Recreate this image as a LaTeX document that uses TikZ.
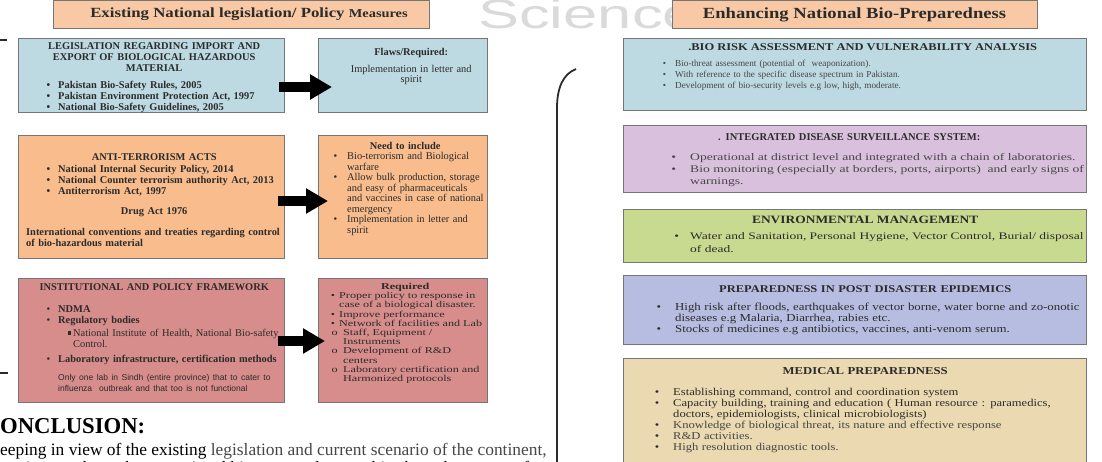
\documentclass[tikz,border=0pt]{standalone}
\usepackage{fontspec}
\setmainfont{Liberation Serif}
\setsansfont{Liberation Sans}
\newfontfamily\serifwide{Liberation Serif}[FakeStretch=1.2]
\newfontfamily\serifwider{Liberation Serif}[FakeStretch=1.35]
\newfontfamily\markfont{Liberation Sans}[FakeStretch=1.5]
\usepackage{enumitem}
\setlist[itemize]{nosep, label=\textbullet}
\usetikzlibrary{positioning,arrows.meta}

\definecolor{titlefill}{HTML}{F8C9A4}
\definecolor{bluefill}{HTML}{BDDAE2}
\definecolor{orangefill}{HTML}{F8BC8D}
\definecolor{redfill}{HTML}{D78D8B}
\definecolor{purplefill}{HTML}{D9C1DD}
\definecolor{greenfill}{HTML}{C8DA8F}
\definecolor{lavenderfill}{HTML}{B7BDE1}
\definecolor{tanfill}{HTML}{EAD9B1}
\definecolor{boxline}{HTML}{767676}
\definecolor{bodytext}{HTML}{2B2B2B}
\definecolor{softtext}{HTML}{464646}
\definecolor{markgray}{HTML}{DADADA}

\tikzset{
  panel/.style={draw=boxline, line width=0.9pt, anchor=north west, inner sep=0pt, outer sep=0pt},
  paneltext/.style={inner sep=0pt, anchor=north west, align=left, text=bodytext},
  blockarrow/.style={line width=10pt, -{Triangle[length=22pt,width=24pt]}, black},
}

\begin{document}
\begin{tikzpicture}[x=1pt,y=-1pt]
\useasboundingbox (0,0) rectangle (1102,461);
\clip (0,0) rectangle (1102,461);

% watermark
\node[anchor=base west, inner sep=0pt, text=markgray, font=\markfont\fontsize{41}{41}\selectfont] (mark) at (478,28) {Science};

% left column
\node[panel, fill=titlefill, minimum width=376, minimum height=28] (lefttitle) at (53,0.5) {};
\node[inner sep=0pt, text=bodytext, font=\serifwide\bfseries\fontsize{14}{16}\selectfont] (lefttitletext) at ([xshift=8pt]lefttitle.center)
  {Existing National legislation/ Policy {\fontsize{12}{16}\selectfont Measures}};

\node[panel, fill=bluefill, minimum width=266, minimum height=74] (legis) at (18,38) {};
\node[panel, fill=bluefill, minimum width=169, minimum height=74] (flaws) at (318,38) {};
\node[panel, fill=orangefill, minimum width=266, minimum height=123] (antiterror) at (18,135) {};
\node[panel, fill=orangefill, minimum width=169, minimum height=123] (needs) at (318,135) {};
\node[panel, fill=redfill, minimum width=266, minimum height=124] (framework) at (18,278) {};
\node[panel, fill=redfill, minimum width=169, minimum height=124] (required) at (318,278) {};

\node[paneltext, text width=256, font=\fontsize{10.4}{11}\selectfont] (legistext) at ([xshift=8pt,yshift=-4pt]legis.north west)
  {{\centering\bfseries LEGISLATION REGARDING IMPORT AND\\ EXPORT OF BIOLOGICAL HAZARDOUS\\ MATERIAL\par}\vspace{6pt}
   \begin{itemize}[leftmargin=32pt, labelsep=8pt]\bfseries
   \item Pakistan Bio-Safety Rules, 2005
   \item Pakistan Environment Protection Act, 1997
   \item National Bio-Safety Guidelines, 2005
   \end{itemize}};

\node[paneltext, text width=170, font=\fontsize{10.4}{10}\selectfont] (flawstext) at ([xshift=8pt,yshift=-10pt]flaws.north west)
  {\centering{\bfseries Flaws/Required:\par}\vspace{7pt}
   Implementation in letter and\\ spirit\par};

\node[paneltext, text width=256, font=\fontsize{10.4}{11}\selectfont] (antitext) at ([xshift=8pt,yshift=-18pt]antiterror.north west)
  {{\centering\bfseries ANTI-TERRORISM ACTS\par}\vspace{1pt}
   \begin{itemize}[leftmargin=32pt, labelsep=8pt]\bfseries
   \item National Internal Security Policy, 2014
   \item National Counter terrorism authority Act, 2013
   \item Antiterrorism Act, 1997
   \end{itemize}\vspace{9.5pt}
   {\centering\bfseries Drug Act 1976\par}\vspace{10pt}
   {\bfseries International conventions and treaties regarding control\\ of bio-hazardous material\par}};

\node[paneltext, text width=158, font=\fontsize{10.4}{10.5}\selectfont] (needstext) at ([xshift=8pt,yshift=-7pt]needs.north west)
  {{\centering\bfseries Need to include\par}
   \begin{itemize}[leftmargin=21pt, labelsep=10pt]
   \item Bio-terrorism and Biological\newline warfare
   \item Allow bulk production, storage\newline and easy of pharmaceuticals\newline and vaccines in case of national\newline emergency
   \item Implementation in letter and\newline spirit
   \end{itemize}};

\node[paneltext, text width=256, font=\fontsize{10.4}{11}\selectfont] (frametext) at ([xshift=8pt,yshift=-5pt]framework.north west)
  {{\centering\bfseries INSTITUTIONAL AND POLICY FRAMEWORK\par}\vspace{11pt}
   \begin{itemize}[leftmargin=32pt, labelsep=8pt]
   \item \textbf{NDMA}
   \item \textbf{Regulatory bodies}\vspace{2pt}
     \begin{itemize}[leftmargin=15pt, labelsep=2.5pt, label=\raisebox{1.5pt}{\rule{3.2pt}{3.2pt}}]
     \item National Institute of Health, National Bio-safety\newline Control.
     \end{itemize}\vspace{4.5pt}
   \item \textbf{Laboratory infrastructure, certification methods}
   \end{itemize}\vspace{7pt}
   {\sffamily\fontsize{8.5}{11}\selectfont\leftskip=32pt Only one lab in Sindh (entire province) that to cater to\\ influenza\ \ outbreak and that too is not functional\par}};

\node[paneltext, text width=158, font=\serifwider\fontsize{9}{9.2}\selectfont] (requiredtext) at ([xshift=8pt,yshift=-5pt]required.north west)
  {{\centering\bfseries Required\par}
   \begin{itemize}[leftmargin=13pt, labelsep=4pt]
   \item Proper policy to response in\newline case of a biological disaster.
   \item Improve performance
   \item Network of facilities and Lab
     \begin{itemize}[leftmargin=4pt, labelsep=5.5pt, label=o]
     \item Staff,\ Equipment /\newline Instruments
     \item Development of R\&D\newline centers
     \item Laboratory certification and\newline Harmonized\ protocols
     \end{itemize}
   \end{itemize}};

\draw[blockarrow] ([xshift=-5pt,yshift=-12pt]legis.east) -- ([xshift=14pt,yshift=-12pt]flaws.west);
\draw[blockarrow] ([xshift=-6pt,yshift=-4.5pt]antiterror.east) -- ([xshift=10pt,yshift=-4.5pt]needs.west);
\draw[blockarrow] ([xshift=-6pt,yshift=-1pt]framework.east) -- ([xshift=7pt,yshift=-1pt]required.west);

% edge marks
\draw[line width=1.3pt, bodytext] (0,40) -- (7,40);
\draw[line width=1.3pt, bodytext] (0,373) -- (8,373);

% conclusion
\node[anchor=base west, inner sep=0pt, text=black, font=\bfseries\fontsize{22.7}{24}\selectfont] (conchead) at (-16.4,433) {CONCLUSION:};
\node[anchor=base west, inner sep=0pt, text=black, font=\fontsize{17.4}{18}\selectfont] (concline) at (-12.6,455)
  {Keeping in view of the existing \textcolor{softtext}{legislation and current scenario of the continent,}};
\node[anchor=base west, inner sep=0pt, text=black, font=\fontsize{17.4}{18}\selectfont] (concnext) at (-19.3,473)
  {There is a need to enhance national bio-preparedness to bio-threat by means of};

% bracket
\draw[line width=1.8pt, bodytext] (576,69) .. controls (563,74) and (557,88) .. (557,108) -- (557,470);

% right column
\node[panel, fill=titlefill, minimum width=365, minimum height=28] (righttitle) at (672,0.5) {};
\node[inner sep=0pt, text=bodytext, font=\serifwide\bfseries\fontsize{15.5}{17}\selectfont] (righttitletext) at (righttitle)
  {Enhancing National Bio-Preparedness};

\node[panel, fill=bluefill, minimum width=463, minimum height=72] (riskbox) at (623,38) {};
\node[panel, fill=purplefill, minimum width=463, minimum height=67] (survbox) at (623,125) {};
\node[panel, fill=greenfill, minimum width=463, minimum height=53] (envbox) at (623,209) {};
\node[panel, fill=lavenderfill, minimum width=463, minimum height=69] (epibox) at (623,275) {};
\node[panel, fill=tanfill, minimum width=463, minimum height=105] (medbox) at (623,358) {};

\node[paneltext, text width=445, font=\fontsize{9.2}{11}\selectfont] (risktext) at ([xshift=17pt,yshift=-5pt]riskbox.north west)
  {{\centering\serifwide\bfseries\fontsize{10.4}{11}\selectfont .BIO RISK ASSESSMENT AND VULNERABILITY ANALYSIS\par}\vspace{5.5pt}
   \begin{itemize}[leftmargin=35pt, labelsep=9pt]\color{softtext}
   \item Bio-threat assessment (potential of\ \ weaponization).
   \item With reference to the specific disease spectrum in Pakistan.
   \item Development of bio-security levels e.g low, high, moderate.
   \end{itemize}};

\node[paneltext, text width=450, font=\serifwider\fontsize{10.1}{12}\selectfont] (survtext) at ([xshift=17pt,yshift=-8.5pt]survbox.north west)
  {{\centering\rmfamily\bfseries\fontsize{10.5}{11}\selectfont\hspace*{-32pt}. INTEGRATED DISEASE SURVEILLANCE SYSTEM:\par}\vspace{8pt}
   \begin{itemize}[leftmargin=50pt, labelsep=14pt]\color{softtext}
   \item Operational at district level and integrated with a chain of laboratories.
   \item Bio monitoring (especially at borders, ports, airports)\ \ and early signs of\newline warnings.
   \end{itemize}};

\node[paneltext, text width=450, font=\serifwider\fontsize{10}{12.5}\selectfont] (envtext) at ([xshift=17pt,yshift=-7pt]envbox.north west)
  {{\centering\serifwide\bfseries\fontsize{11.2}{12}\selectfont ENVIRONMENTAL MANAGEMENT\par}\vspace{3.5pt}
   \begin{itemize}[leftmargin=50pt, labelsep=11pt]
   \item Water and Sanitation, Personal Hygiene, Vector Control, Burial/ disposal\newline of dead.
   \end{itemize}};

\node[paneltext, text width=450, font=\serifwide\fontsize{10.7}{11}\selectfont] (epitext) at ([xshift=17pt,yshift=-10pt]epibox.north west)
  {{\centering\bfseries\fontsize{10.4}{11}\selectfont PREPAREDNESS IN POST DISASTER EPIDEMICS\par}\vspace{7pt}
   \begin{itemize}[leftmargin=35pt, labelsep=14pt]
   \item High risk after floods, earthquakes of vector borne, water borne and zo-onotic\newline diseases e.g Malaria, Diarrhea, rabies etc.
   \item Stocks of medicines e.g antibiotics, vaccines, anti-venom serum.
   \end{itemize}};

\node[paneltext, text width=450, font=\serifwide\fontsize{10.5}{11}\selectfont] (medtext) at ([xshift=17pt,yshift=-9pt]medbox.north west)
  {{\centering\bfseries\fontsize{10.6}{11}\selectfont MEDICAL PREPAREDNESS\par}\vspace{10.5pt}
   \begin{itemize}[leftmargin=33pt, labelsep=14pt]
   \item Establishing command, control and coordination system
   \item Capacity building, training and education ( Human resource : paramedics,\newline doctors, epidemiologists, clinical microbiologists)
   \item \textcolor{softtext}{Knowledge of biological threat, its nature and effective response}
   \item \textcolor{softtext}{R\&D activities.}
   \item \textcolor{softtext}{High resolution diagnostic tools.}
   \end{itemize}};
\end{tikzpicture}
\end{document}
